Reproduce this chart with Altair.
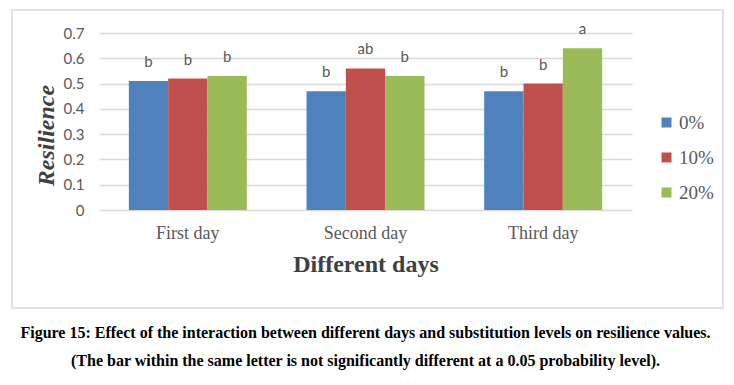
import altair as alt
import pandas as pd

days = ["First day", "Second day", "Third day"]
levels = ["0%", "10%", "20%"]
values_0 = [0.51, 0.47, 0.47]
values_10 = [0.52, 0.56, 0.50]
values_20 = [0.53, 0.53, 0.64]
letters_0 = ["b", "b", "b"]
letters_10 = ["b", "ab", "b"]
letters_20 = ["b", "b", "a"]
colors = ["#4F81BD", "#C0504D", "#9BBB59"]
y_ticks = [0, 0.1, 0.2, 0.3, 0.4, 0.5, 0.6, 0.7]
caption = [
    "Figure 15: Effect of the interaction between different days and substitution levels on resilience values.",
    "(The bar within the same letter is not significantly different at a 0.05 probability level).",
]

rows = []
for lvl, vals, lets in zip(levels, [values_0, values_10, values_20], [letters_0, letters_10, letters_20]):
    for d, v, l in zip(days, vals, lets):
        rows.append({"day": d, "level": lvl, "value": v, "letter": l})
df = pd.DataFrame(rows)

x_enc = alt.X(
    "day:N", sort=days,
    scale=alt.Scale(paddingInner=0.336, paddingOuter=0.168),
    axis=alt.Axis(
        title="Different days", labelAngle=0, domain=False, ticks=False,
        labelFont="Liberation Serif", labelFontSize=18, labelColor="#595959", labelPadding=14,
        titleFont="Liberation Serif", titleFontWeight="bold", titleFontSize=24,
        titleColor="#404040", titlePadding=10,
    ),
)
xoff_enc = alt.XOffset("level:N", sort=levels, scale=alt.Scale(paddingInner=0, paddingOuter=0))
y_enc = alt.Y(
    "value:Q",
    scale=alt.Scale(domain=[0, 0.7], nice=False),
    axis=alt.Axis(
        title="Resilience", values=y_ticks, tickCount=8, domain=False, ticks=False, grid=True,
        gridColor="#d9d9d9", gridWidth=1.3, labelOverlap=False,
        labelExpr="datum.value == 0 ? '0' : format(datum.value, '.1f')",
        labelFont="Lato", labelFontSize=15, labelColor="#595959", labelPadding=15,
        titleFont="Liberation Serif", titleFontStyle="italic", titleFontWeight="bold",
        titleFontSize=24, titleColor="#404040", titleX=-46, titleY=102,
        titleAlign="center", titleBaseline="alphabetic", titleAngle=270,
    ),
)

frame = alt.Chart(pd.DataFrame({"f": [1]})).mark_rect(
    filled=False, stroke="#d9d9d9", strokeWidth=1.5
).encode(
    x=alt.value(-87), x2=alt.value(624), y=alt.value(-23), y2=alt.value(275)
)

bars = alt.Chart(df).mark_bar().encode(
    x=x_enc, xOffset=xoff_enc, y=y_enc,
    color=alt.Color(
        "level:N", sort=levels,
        scale=alt.Scale(domain=levels, range=colors),
        legend=alt.Legend(
            title=None, orient="none", legendX=558, legendY=80,
            symbolType="square", symbolSize=100, symbolStrokeWidth=0,
            labelFont="Liberation Serif", labelFontSize=19, labelColor="#595959",
            rowPadding=15, labelOffset=3,
        ),
    ),
)

text = alt.Chart(df).mark_text(
    font="Lato", fontSize=15, color="#595959", baseline="alphabetic", dy=-14
).encode(
    x=x_enc, xOffset=xoff_enc, y=y_enc, text="letter:N"
)

chart = alt.layer(frame, bars, text).properties(
    width=533, height=177,
    padding={"left": 91, "top": 25, "right": 94, "bottom": 167},
    autosize=alt.AutoSizeParams(type="none"),
    title=alt.TitleParams(
        text=caption, orient="bottom", anchor="middle", font="Liberation Serif",
        fontWeight="bold", fontSize=16, color="#000000", lineHeight=28, offset=16,
    ),
).configure_view(stroke=None)

chart.save("out.html", embed_options={"renderer": "svg", "actions": False})
